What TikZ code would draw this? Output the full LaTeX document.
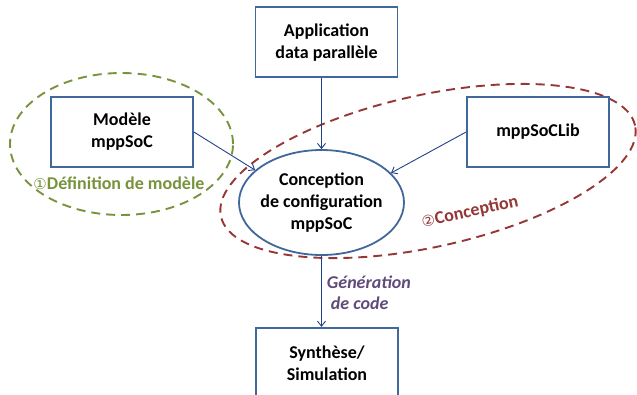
\documentclass[tikz,border=0pt]{standalone}
\usepackage{fontspec}
\setmainfont{Carlito}
\newfontfamily\circfont{DejaVu Sans}
\usepackage{xcolor}
\usepackage{tikz}
\usetikzlibrary{positioning, arrows.meta, shapes.geometric}

\definecolor{boxblue}{HTML}{41689A}
\definecolor{arrowblue}{HTML}{22408A}
\definecolor{zonegreen}{HTML}{77933C}
\definecolor{zonered}{HTML}{953735}
\definecolor{genpurple}{HTML}{604A7B}

\begin{document}
\begin{tikzpicture}[x=1pt, y=-1pt, node distance=71pt, >={Straight Barb[length=5pt, width=8pt]},
      comp/.style={draw=boxblue, line width=1.8pt, align=center, minimum width=142pt, minimum height=70pt,
        font=\fontsize{18}{22}\selectfont\bfseries},
      zone/.style={ellipse, line width=1.9pt, dash pattern=on 9pt off 6pt},
      link/.style={->, draw=arrowblue, line width=0.9pt}]
    \useasboundingbox (0,0) rectangle (637,394);

    \node[zone, draw=zonegreen, minimum width=223pt, minimum height=142pt] (defzone) at (121.5,144) {};
    \node[zone, draw=zonered, minimum width=424pt, minimum height=152pt, rotate=12.4] (confzone) at (428,171) {};

    \node[comp, ellipse, inner xsep=-6pt, inner ysep=0pt, minimum width=165pt, minimum height=105pt] (concept) at (321.5,202.5)
      {Conception\\de configuration\\mppSoC};
    \node[comp, above=71pt of concept, xshift=5pt] (app) {Application\\data parallèle};
    \node[comp, below=71pt of concept, xshift=5.5pt] (synth) {Synthèse/\\Simulation};
    \node[comp] (modele) at (122,132) {Modèle\\mppSoC};
    \node[comp] (lib) at (538,132) {mppSoCLib};

    \node[text=zonegreen, font=\fontsize{18}{22}\selectfont\bfseries, inner sep=0pt] (deflabel) at (119,183)
      {{\circfont\fontsize{15}{15}\selectfont\mdseries ①}Définition de modèle};
    \node[text=zonered, font=\fontsize{18}{22}\selectfont\bfseries, inner sep=0pt, rotate=12] (conflabel) at (470,212)
      {{\circfont\fontsize{15}{15}\selectfont\mdseries ②}Conception};

    \draw[link] (app.south -| concept.north) -- (concept.north);
    \draw[link] (modele.east) -- (concept.154);
    \draw[link] (lib.west) -- (concept.23);
    \draw[link] (concept.south) -- node[pos=0.52, right=5pt, inner sep=0pt, align=left, text=genpurple,
        font=\fontsize{18}{21}\selectfont\bfseries\itshape] (genlabel) {Génération\\\hspace*{4pt}de code}
      (synth.north -| concept.south);
  \end{tikzpicture}
\end{document}
